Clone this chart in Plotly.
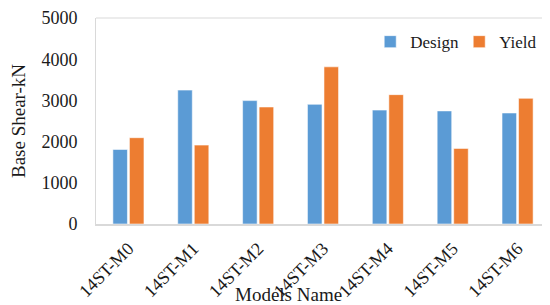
import plotly.graph_objects as go

categories = ["14ST-M0", "14ST-M1", "14ST-M2", "14ST-M3", "14ST-M4", "14ST-M5", "14ST-M6"]
design = [1810, 3250, 2995, 2905, 2765, 2745, 2695]
yield_ = [2095, 1915, 2840, 3815, 3140, 1835, 3050]
y_ticks = [0, 1000, 2000, 3000, 4000, 5000]

FONT = "Liberation Serif, Times New Roman, serif"

# the page body has an 8px margin: paper starts at (8, 8) in the window
fig = go.Figure()
fig.add_trace(go.Bar(name="Design", x=categories, y=design,
                     marker=dict(color="#5B9BD5", line=dict(color="rgba(255,255,255,0.55)", width=1))))
fig.add_trace(go.Bar(name="Yield", x=categories, y=yield_,
                     marker=dict(color="#ED7D31", line=dict(color="rgba(255,255,255,0.55)", width=1))))

fig.update_layout(
    width=542, height=297,
    margin=dict(l=88, r=0, t=10, b=81, autoexpand=False),
    paper_bgcolor="white", plot_bgcolor="white",
    barmode="group", bargap=0.49, bargroupgap=0.12,
    font=dict(family=FONT, color="#1a1a1a", size=17),
    showlegend=True,
    legend=dict(orientation="h", x=0.604, xanchor="left", y=0.883, yanchor="middle",
                font=dict(family=FONT, size=17), bgcolor="rgba(0,0,0,0)",
                itemwidth=30, entrywidth=44, tracegroupgap=0, traceorder="normal"),
    xaxis=dict(tickangle=-45, tickfont=dict(family=FONT, size=18), showgrid=False,
               showline=True, linecolor="#d9d9d9", linewidth=2, ticks="", automargin=False,
               ticklabelstandoff=5),
    yaxis=dict(range=[0, 5000], tickvals=y_ticks, tickfont=dict(family=FONT, size=18),
               showgrid=False, showline=True, linecolor="#d9d9d9", linewidth=1,
               ticks="", ticklen=0, zeroline=False, automargin=False,
               ticklabelstandoff=14,
               title=dict(text="Base Shear-kN", font=dict(family=FONT, size=19), standoff=10)),
)
fig.add_shape(type="line", xref="paper", yref="paper", x0=0, x1=1, y0=1, y1=1,
              line=dict(color="#d9d9d9", width=1))
fig.add_annotation(text="Models Name", xref="paper", yref="paper",
                   x=(288 - 96) / 454, y=(224 - 294) / 206, xanchor="center", yanchor="middle",
                   showarrow=False, font=dict(family=FONT, size=19))

fig.write_html("out.html")
